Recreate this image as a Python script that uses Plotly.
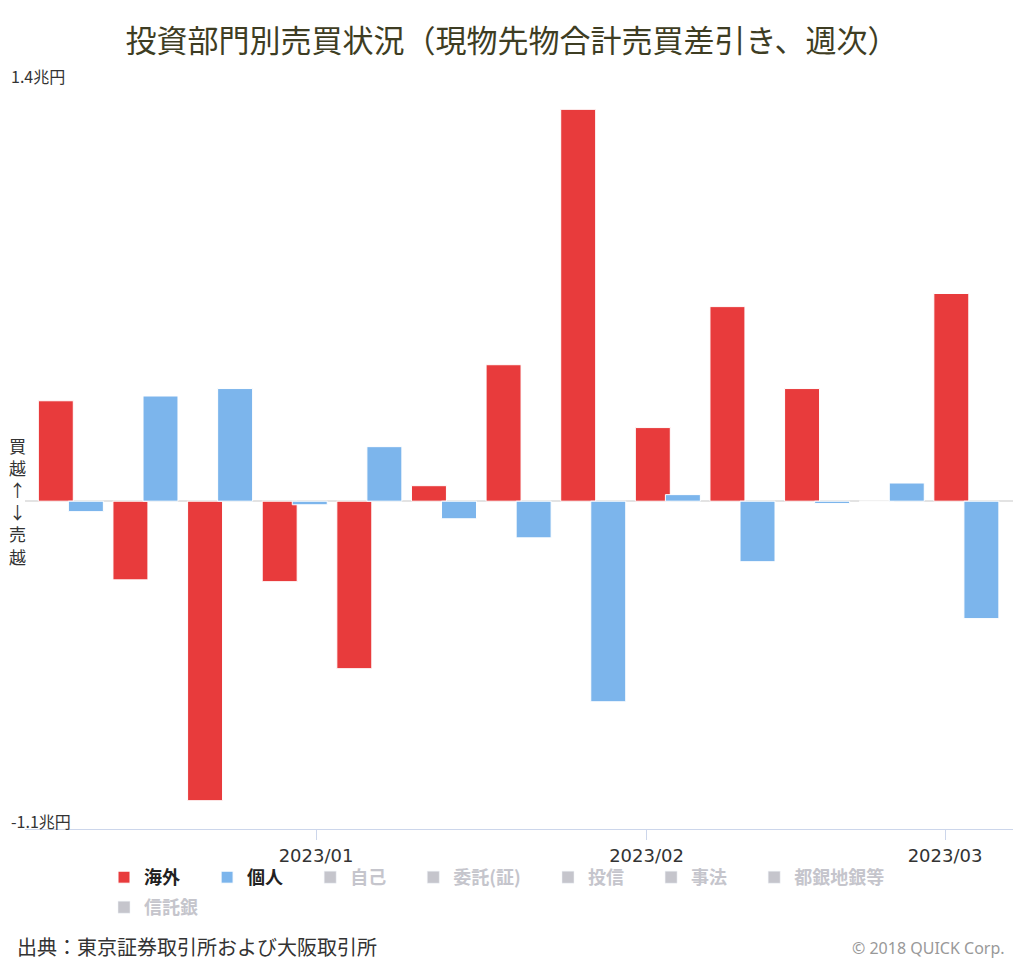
import plotly.graph_objects as go

# ---- data (兆円, weekly net buy/sell, week ending Friday) ----
week_dates = ["2022-12-09", "2022-12-16", "2022-12-23", "2022-12-30", "2023-01-06",
              "2023-01-13", "2023-01-20", "2023-01-27", "2023-02-03", "2023-02-10",
              "2023-02-17", "2023-02-24", "2023-03-03"]
kaigai = [0.337, -0.264, -1.005, -0.270, -0.562, 0.052, 0.458, 1.315, 0.247, 0.653, 0.378, 0.0, 0.697]
kojin = [-0.035, 0.353, 0.378, -0.012, 0.183, -0.059, -0.123, -0.673, 0.022, -0.203, -0.008, 0.061, -0.394]
visible_names = ["海外", "個人"]
hidden_names_row1 = ["自己", "委託(証)", "投信", "事法", "都銀地銀等"]
hidden_names_row2 = ["信託銀"]
month_ticks = ["2023-01-01", "2023-02-01", "2023-03-01"]
month_labels = ["2023/01", "2023/02", "2023/03"]
y_label_vals = [1.4, -1.1]
y_label_text = ["1.4兆円", "-1.1兆円"]
y_title_chars = ["買", "越", "↑", "↓", "売", "越"]

# ---- styles ----
DAY = 86400000
BAR_W = 3.28 * DAY
RED = "#e83b3c"
BLUE = "#7cb5ec"
HIDDEN = "#8c8c9a"
JP = "Noto Sans CJK JP"
PAD = "\u2003\u00a0"

fig = go.Figure()
fig.add_trace(go.Bar(x=week_dates, y=kaigai, name=visible_names[0] + PAD, marker_color=RED,
                     marker_line=dict(color="white", width=1), width=BAR_W,
                     offset=-3.05 * DAY, legend="legend"))
fig.add_trace(go.Bar(x=week_dates, y=kojin, name=visible_names[1] + PAD, marker_color=BLUE,
                     marker_line=dict(color="white", width=1), width=BAR_W,
                     offset=-0.23 * DAY, legend="legend"))
for n in hidden_names_row1:
    fig.add_trace(go.Bar(x=[week_dates[0]], y=[None], name=f"<span style='color:{HIDDEN}'>{n}</span>" + PAD,
                         marker_color=HIDDEN, visible="legendonly", legend="legend"))
for n in hidden_names_row2:
    fig.add_trace(go.Bar(x=[week_dates[0]], y=[None], name=f"<span style='color:{HIDDEN}'>{n}</span>" + PAD,
                         marker_color=HIDDEN, visible="legendonly", legend="legend2"))

legend_common = dict(orientation="h", xref="container", yref="container", xanchor="left", yanchor="top",
                     font=dict(family=JP, size=18, color="#222", weight="bold"),
                     bgcolor="rgba(0,0,0,0)", traceorder="normal")

fig.update_layout(
    width=1024, height=964,
    margin=dict(l=25, r=11, t=84, b=135, autoexpand=False),
    plot_bgcolor="white", paper_bgcolor="white",
    barmode="overlay",
    title=dict(text="投資部門別売買状況（現物先物合計売買差引き、週次）", xref="container", x=0.5, xanchor="center",
               yref="container", y=1 - 41 / 964, yanchor="middle", automargin=False,
               font=dict(family=JP, size=31, color="#3e3d23")),
    legend=dict(legend_common, x=104 / 1024, y=1 - 859 / 964),
    legend2=dict(legend_common, x=104 / 1024, y=1 - 889 / 964),
    xaxis=dict(type="date", range=["2022-12-04 16:48", "2023-03-07 09:00"],
               tickvals=month_ticks, ticktext=month_labels, ticks="outside", ticklen=10,
               tickcolor="#ccd6eb", tickwidth=1, showline=True, linecolor="#ccd6eb", linewidth=1,
               showgrid=False, zeroline=False, ticklabelstandoff=0, automargin=False,
               tickfont=dict(family="DejaVu Sans", size=18, color="#333")),
    yaxis=dict(range=[-1.1, 1.4], tickvals=[0, 1.4], showticklabels=False, showgrid=True,
               gridcolor="#e6e6e6", gridwidth=1, zeroline=True, zerolinecolor="#e3e3e3",
               zerolinewidth=2, showline=False, ticks="", automargin=False),
)

for v, t in zip(y_label_vals, y_label_text):
    fig.add_annotation(text=t, xref="paper", x=0, xshift=-16, xanchor="left",
                       yref="y", y=v, yanchor="bottom", yshift=-6, showarrow=False,
                       font=dict(family=JP, size=16, color="#333"))

fig.add_annotation(text="<br>".join(y_title_chars), xref="paper", x=0, xshift=-8, xanchor="center",
                   yref="y", y=0, yanchor="middle", showarrow=False,
                   font=dict(family=JP, size=17, color="#333"))

fig.add_annotation(text="出典：東京証券取引所および大阪取引所", xref="paper", x=0, xshift=-10, xanchor="left",
                   yref="paper", y=0, yshift=-117, yanchor="middle", showarrow=False,
                   font=dict(family=JP, size=20, color="#333"))
fig.add_annotation(text="© 2018 QUICK Corp.", xref="paper", x=1, xshift=-6, xanchor="right",
                   yref="paper", y=0, yshift=-119, yanchor="middle", showarrow=False,
                   font=dict(family="Noto Sans", size=16, color="#999"))

fig.write_html("out.html", config={"displayModeBar": False},
               post_script=["document.body.style.margin='0';"])
